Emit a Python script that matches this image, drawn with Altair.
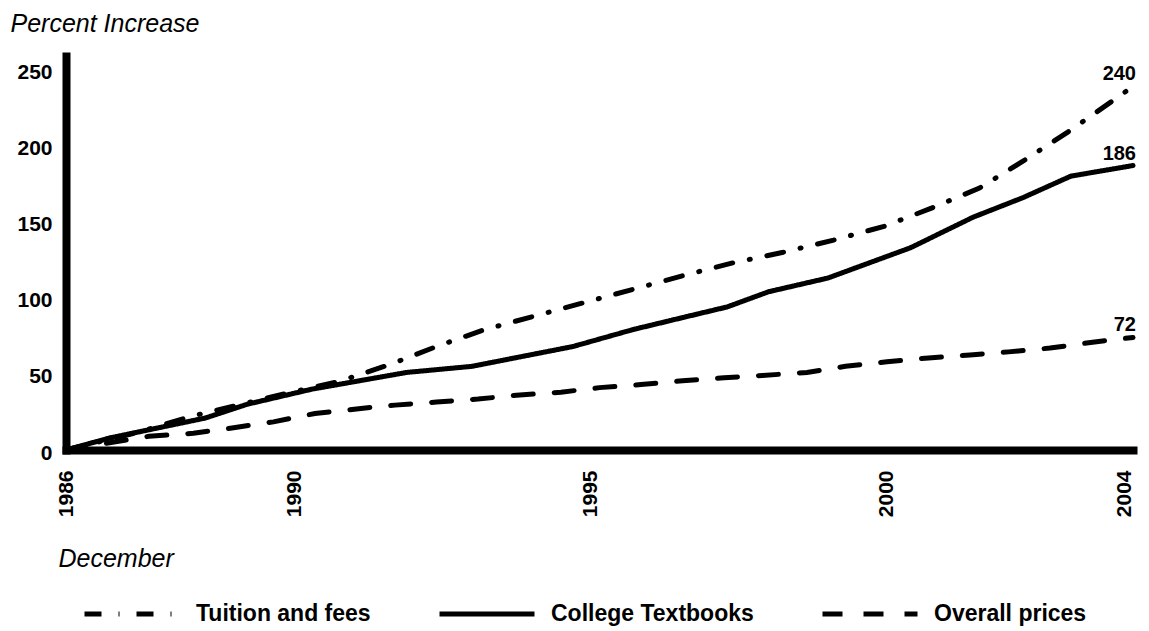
import altair as alt
import pandas as pd

# ---- data ----
series_names = ["Tuition and fees", "College Textbooks", "Overall prices"]

tuition_years = [1986.15, 1987.4, 1988.25, 1989.1, 1989.95, 1990.75, 1991.6, 1992.4, 1993.2,
                 1994.05, 1994.9, 1995.75, 1996.6, 1997.4, 1998.25, 1999.1, 1999.95, 2000.75,
                 2001.55, 2002.3, 2003.05, 2003.75, 2004.15]
tuition_values = [0, 12, 22, 30, 38, 45, 56, 68, 79, 88, 97, 106, 115, 123, 130, 138, 147, 159,
                  172, 190, 209, 228, 239]

textbook_years = [1986.15, 1986.9, 1988.5, 1989.2, 1990.3, 1991.9, 1993.0, 1994.7, 1995.7,
                  1996.55, 1997.3, 1998.0, 1999.0, 2000.4, 2001.45, 2002.3, 2003.1, 2004.15]
textbook_values = [0, 8, 21, 30, 40, 51, 55, 68, 79, 87, 94, 104, 113, 133, 153, 166, 180, 187]

overall_years = [1986.15, 1987.55, 1988.3, 1988.95, 1989.65, 1990.35, 1991.05, 1991.7, 1992.4,
                 1993.1, 1993.75, 1994.5, 1995.15, 1995.85, 1996.55, 1997.25, 1997.9, 1998.65,
                 1999.3, 2000.0, 2000.7, 2001.4, 2002.05, 2002.75, 2003.4, 2004.15]
overall_values = [0, 9, 11, 14.5, 18.5, 24, 27, 29.5, 31.5, 33.5, 36, 38, 41, 43, 45.5, 47.5,
                  49, 51, 55, 58, 60.5, 62.5, 64.5, 67, 70.5, 74]

end_labels = ["240", "186", "72"]

x_tick_values = [1986.15, 1990, 1995, 2000, 2004]
y_tick_values = [0, 50, 100, 150, 200, 250]

# ---- tables ----
rows = []
for name, ys, vs in [(series_names[0], tuition_years, tuition_values),
                     (series_names[1], textbook_years, textbook_values),
                     (series_names[2], overall_years, overall_values)]:
    for y, v in zip(ys, vs):
        rows.append({"series": name, "year": y, "value": v})
df = pd.DataFrame(rows)

end_df = pd.DataFrame({
    "series": series_names,
    "year": [tuition_years[-1], textbook_years[-1], overall_years[-1]],
    "value": [tuition_values[-1], textbook_values[-1], overall_values[-1]],
    "label": end_labels,
})

BOLD = "Liberation Sans"

x_enc = alt.X(
    "year:Q",
    scale=alt.Scale(domain=[1986.15, 2004.15], nice=False, zero=False),
    axis=alt.Axis(
        title="December",
        values=x_tick_values,
        labelExpr="'' + floor(datum.value)",
        labelAngle=-90,
        labelAlign="right",
        labelBaseline="middle",
        labelPadding=20,
        labelFlush=False,
        labelOverlap=False,
        labelFont=BOLD,
        labelFontSize=21,
        labelFontWeight="bold",
        labelColor="black",
        ticks=False,
        grid=False,
        domainColor="black",
        domainWidth=8,
        domainCap="square",
        titleFont=BOLD,
        titleFontSize=25,
        titleFontStyle="italic",
        titleFontWeight="normal",
        titleColor="black",
        titleAlign="left",
        titleBaseline="alphabetic",
        titleAnchor="start",
        titleX=-8,
        titleY=116,
    ),
)

y_enc = alt.Y(
    "value:Q",
    scale=alt.Scale(domain=[0, 259], nice=False),
    axis=alt.Axis(
        title="Percent Increase",
        values=y_tick_values,
        labelPadding=14,
        labelOffset=3,
        labelFont=BOLD,
        labelFontSize=21,
        labelFontWeight="bold",
        labelColor="black",
        ticks=False,
        grid=False,
        domainColor="black",
        domainWidth=8,
        domainCap="square",
        titleFont=BOLD,
        titleFontSize=25,
        titleFontStyle="italic",
        titleFontWeight="normal",
        titleColor="black",
        titleAngle=0,
        titleAlign="left",
        titleBaseline="alphabetic",
        titleX=-56,
        titleY=-25,
    ),
)

lines = alt.Chart(df).mark_line(strokeWidth=5, strokeCap="round", color="black").encode(
    x=x_enc,
    y=y_enc,
    strokeDash=alt.StrokeDash(
        "series:N",
        scale=alt.Scale(domain=series_names, range=[[17, 17, 1, 17], [1, 0], [20, 21]]),
        sort=series_names,
        legend=alt.Legend(
            title=None,
            orient="none",
            direction="horizontal",
            legendX=16,
            legendY=508,
            symbolType="stroke",
            symbolSize=9025,
            symbolStrokeWidth=5,
            symbolStrokeColor="black",
            labelFont=BOLD,
            labelFontSize=23,
            labelFontWeight="bold",
            labelColor="black",
            labelOffset=14,
            labelLimit=400,
            columnPadding=58,
        ),
    ),
)

labels = alt.Chart(end_df).mark_text(
    align="right", baseline="alphabetic", dx=3, dy=-6,
    font=BOLD, fontSize=20, fontWeight="bold", color="black",
).encode(
    x=alt.X("year:Q"),
    y=alt.Y("value:Q"),
    text="label:N",
)

chart = alt.layer(lines, labels).properties(
    width=1067,
    height=394,
    autosize=alt.AutoSizeParams(type="none"),
    padding={"left": 58, "top": 48, "right": 8, "bottom": 180},
    background="white",
).configure_view(stroke=None)

chart.save("out.html", embed_options={"renderer": "svg", "actions": False})
